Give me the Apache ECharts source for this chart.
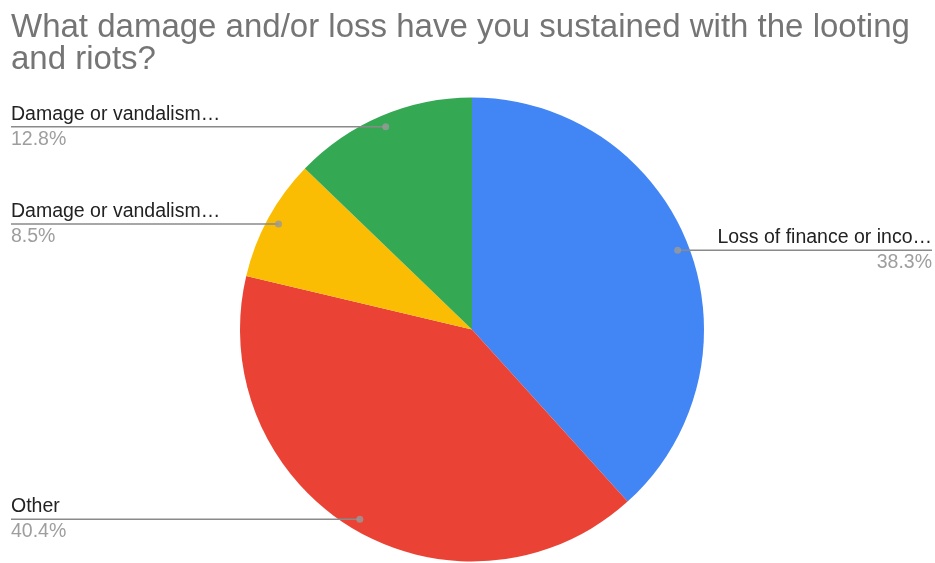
<!DOCTYPE html>
<html>
<head>
<meta charset="utf-8">
<script src="https://cdn.jsdelivr.net/npm/echarts@6/dist/echarts.min.js"></script>
<style>
  html, body { margin: 0; padding: 0; background: #fff; }
  #chart { width: 935px; height: 563px; }
</style>
</head>
<body>
<div id="chart"></div>
<script>
// Survey answers, clockwise from twelve o'clock
const categories = ['Loss of finance or inco…', 'Other', 'Damage or vandalism…', 'Damage or vandalism…'];
const shares = [38.3, 40.4, 8.5, 12.8];
const sliceColors = ['#4285f4', '#ea4335', '#fbbc04', '#34a853'];
const titleText = 'What damage and/or loss have you sustained with the looting\nand riots?';

const FONT = 'Arial, "Liberation Sans", sans-serif';
const CENTER = [472, 329.5];
const RADIUS = 232;
const DOT_RATIO = 0.95; // leader lines start just inside the rim

const chart = echarts.init(document.getElementById('chart'), null, { renderer: 'canvas' });

const pieData = categories.map((name, i) => ({
  name: name,
  value: shares[i],
  itemStyle: { color: sliceColors[i] }
}));

// Labels on the right hug the right edge more tightly than those on the left
const labelData = categories.map((name, i) => ({
  name: name,
  value: shares[i],
  label: { edgeDistance: i === 0 ? 3 : 11 }
}));

// Angular midpoint of each slice (in share units), for the anchor dots
const total = shares.reduce((a, b) => a + b, 0);
let acc = 0;
const dotData = shares.map(v => {
  const mid = acc + v / 2;
  acc += v;
  return [DOT_RATIO, mid / total * 100];
});

chart.setOption({
  animation: false,
  title: {
    text: titleText,
    left: 11,
    top: 12,
    padding: 0,
    textStyle: {
      fontFamily: FONT,
      fontSize: 33,
      fontWeight: 'normal',
      color: '#757575',
      lineHeight: 32
    }
  },
  polar: { center: CENTER, radius: RADIUS },
  angleAxis: { type: 'value', min: 0, max: 100, startAngle: 90, clockwise: true, show: false },
  radiusAxis: { type: 'value', min: 0, max: 1, show: false },
  series: [
    {
      type: 'pie',
      center: CENTER,
      radius: RADIUS,
      startAngle: 90,
      clockwise: true,
      silent: true,
      label: { show: false },
      labelLine: { show: false },
      emphasis: { disabled: true },
      data: pieData
    },
    {
      // transparent twin of the pie that carries the callout labels
      type: 'pie',
      center: CENTER,
      radius: RADIUS * DOT_RATIO,
      startAngle: 90,
      clockwise: true,
      silent: true,
      z: 3,
      percentPrecision: 1,
      itemStyle: { color: 'rgba(0,0,0,0)' },
      emphasis: { disabled: true },
      label: {
        show: true,
        position: 'outer',
        alignTo: 'edge',
        formatter: '{n|{b}}\n{p|{d}%}',
        rich: {
          n: { fontFamily: FONT, fontSize: 19.5, color: '#222222', lineHeight: 25 },
          p: { fontFamily: FONT, fontSize: 19.5, color: '#9e9e9e', lineHeight: 25 }
        }
      },
      labelLine: {
        show: true,
        length: 0,
        length2: 10,
        lineStyle: { color: '#8a8a8a', width: 1.5 }
      },
      labelLayout: function (params) {
        const pts = params.labelLinePoints;
        if (!pts) return {};
        const rect = params.labelRect;
        const isLeft = rect.x < chart.getWidth() / 2;
        const start = pts[0];
        const endX = isLeft ? rect.x : rect.x + rect.width;
        return {
          labelLinePoints: [[start[0], start[1]], [start[0], start[1]], [endX, start[1]]]
        };
      },
      data: labelData
    },
    {
      type: 'scatter',
      coordinateSystem: 'polar',
      symbol: 'circle',
      symbolSize: 7,
      z: 4,
      silent: true,
      itemStyle: { color: '#9a9a9a' },
      data: dotData
    }
  ]
});
</script>
</body>
</html>
